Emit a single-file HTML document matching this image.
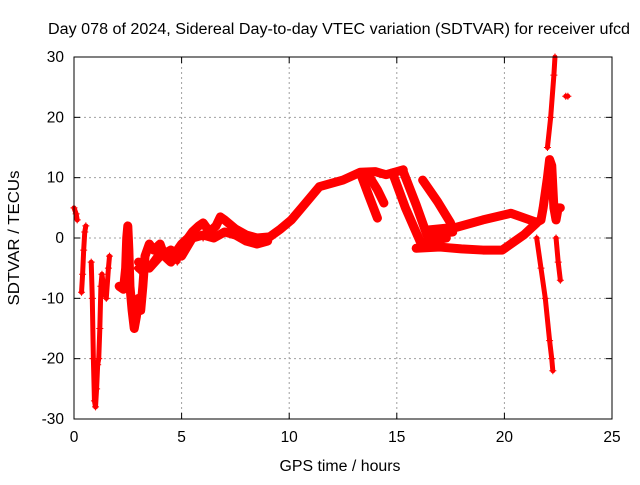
<!DOCTYPE html>
<html><head><meta charset="utf-8"><style>
html,body{margin:0;padding:0;background:#fff}
svg text{font-family:"Liberation Sans",sans-serif;font-size:15.5px;fill:#000}
</style></head><body>
<svg id="chart" width="640" height="480" xmlns="http://www.w3.org/2000/svg">
<text x="339" y="34" text-anchor="middle" textLength="582" lengthAdjust="spacingAndGlyphs">Day 078 of 2024, Sidereal Day-to-day VTEC variation (SDTVAR) for receiver ufcd</text>
<text x="340" y="471" text-anchor="middle" textLength="121" lengthAdjust="spacingAndGlyphs">GPS time / hours</text>
<text transform="translate(19,238) rotate(-90)" text-anchor="middle" textLength="135" lengthAdjust="spacingAndGlyphs">SDTVAR / TECUs</text>
<g id="grid"></g><g id="ticks"></g><g id="data"></g>
<rect x="74" y="57" width="538" height="362" fill="none" stroke="#000"/>
</svg>
<script>
const xTicks=[0,5,10,15,20,25];
const yTicks=[-30,-20,-10,0,10,20,30];
const s1x=[0.0,0.1,0.15];
const s1y=[5,4,3];
const s2x=[0.35,0.4,0.45,0.5,0.55];
const s2y=[-9,-6,-2,1,2];
const s3x=[0.8,0.85,0.9,0.95,1.0,1.05,1.1,1.15,1.2,1.25,1.3,1.4,1.5,1.6,1.65];
const s3y=[-4,-10,-20,-27,-28,-25,-21,-20,-15,-8,-6,-9,-10,-5,-3];
const s4x=[2.1,2.3,2.4,2.45,2.5,2.55,2.6,2.7,2.8,2.9,3.0,3.1,3.2,3.3,3.5,3.7,4.0,4.2,4.5,4.8,5.0,5.3,5.5,5.8,6.0,6.3,6.6,6.8,7.0,7.5,8.0,8.5,9.1,9.6,10.1,10.6,11.4,12.5,13.3,14.0,14.5,15.3];
const s4y=[-8,-8.5,-5,0,2,-2,-8,-12,-15,-13,-10,-12,-8,-3,-1,-2,-1,-3,-4,-2,-1,0,1,2,2.5,1,2,3.5,3,1.5,0.5,0,0.2,1.5,3,5.1,8.5,9.6,10.9,11,10.5,11.3];
const s5x=[3.0,3.5,4.0,4.5,5.0,5.5,6.0,6.5,7.0,7.5,8.0,8.5,9.0];
const s5y=[-4,-5,-3,-2,-3,0,0.5,0,1,0.5,-0.5,-1,-0.5];
const s6x=[2.9,3.2,3.6,4.0,4.4,4.8,5.2,5.6,6.0];
const s6y=[-5,-6,-4,-2,-3,-4,-1,1,0];
const d1x=[13.3,13.7,14.1];
const d1y=[10.8,7,3.3];
const d2x=[13.75,14.1,14.4];
const d2y=[10,8,5.8];
const d3x=[14.8,15.4,16.1,16.6,17.3];
const d3y=[10.8,5,-0.7,-0.5,0];
const d4x=[15.3,15.9,16.4,17,17.6];
const d4y=[11,5.5,0.5,0.8,1];
const d5x=[16.2,16.9,17.5];
const d5y=[9.6,6,2.5];
const b1x=[15.9,17,18,19,19.9,20.9,21.5];
const b1y=[-1.7,-1.5,-1.8,-2,-2,0.5,2.5];
const b2x=[16.4,17.8,19,20.3,21.5,21.7,21.8,22.0,22.1,22.2,22.3,22.4,22.5,22.6];
const b2y=[1.3,1.8,3,4.1,2.6,3,5,10,13,12,5,3,5,5];
const sp1x=[21.5,21.7,21.9,22.1,22.2,22.25];
const sp1y=[0,-5,-10,-17,-20,-22];
const sp2x=[22.0,22.15,22.3,22.35];
const sp2y=[15,20,27,30];
const sp3x=[22.4,22.5,22.6];
const sp3y=[0,-4,-7];
const sp4x=[22.85,22.95];
const sp4y=[23.5,23.5];
const X=h=>74+h*21.52, Y=v=>238-v*6.0333;
const NS="http://www.w3.org/2000/svg";
const g=document.getElementById('grid'),t=document.getElementById('ticks'),d=document.getElementById('data');
function mk(tag,at,p){const e=document.createElementNS(NS,tag);for(const k in at)e.setAttribute(k,at[k]);p.appendChild(e);return e;}
xTicks.forEach(v=>{const x=X(v);
 if(v>0&&v<25){const l=mk('line',{x1:x,x2:x,y1:57,y2:419,stroke:'#a0a0a0','stroke-dasharray':'2,3'},g);
 
 }
 mk('line',{x1:x,x2:x,y1:419,y2:413,stroke:'#000'},t);mk('line',{x1:x,x2:x,y1:57,y2:63,stroke:'#000'},t);
 const tx=mk('text',{x:x,y:442,'text-anchor':'middle'},t);tx.textContent=v;
 
 });
yTicks.forEach(v=>{const y=Y(v);
 if(v>-30&&v<30){const l=mk('line',{x1:74,x2:612,y1:y,y2:y,stroke:'#a0a0a0','stroke-dasharray':'2,3'},g);
 
 }
 mk('line',{x1:74,x2:80,y1:y,y2:y,stroke:'#000'},t);mk('line',{x1:606,x2:612,y1:y,y2:y,stroke:'#000'},t);
 const tx=mk('text',{x:64,y:y+5,'text-anchor':'end'},t);tx.textContent=v;
 
 });
const series=[[s1x,s1y],[s2x,s2y],[s3x,s3y],[s4x,s4y],[s5x,s5y],[s6x,s6y],[d1x,d1y],[d2x,d2y],[d3x,d3y],[d4x,d4y],[d5x,d5y],[b1x,b1y],[b2x,b2y],[sp1x,sp1y],[sp2x,sp2y],[sp3x,sp3y],[sp4x,sp4y]];
series.forEach((s,i)=>{
 const pts=s[0].map((h,j)=>X(h)+','+Y(s[1][j])).join(' ');
 const w=(i>=6&&i<=12)||i==3||i==4?9:5;
 const pl=mk('polyline',{points:pts,fill:'none',stroke:'#ff0000','stroke-width':w,'stroke-linejoin':'round','stroke-linecap':'round'},d);
 
 
 s[0].forEach((h,j)=>{const x=X(h),y=Y(s[1][j]);
  const p=mk('path',{d:`M${x-3.5},${y}H${x+3.5}M${x},${y-3.5}V${y+3.5}`,stroke:'#ff0000','stroke-width':1},d);
  
  });
});
</script>
</body></html>
